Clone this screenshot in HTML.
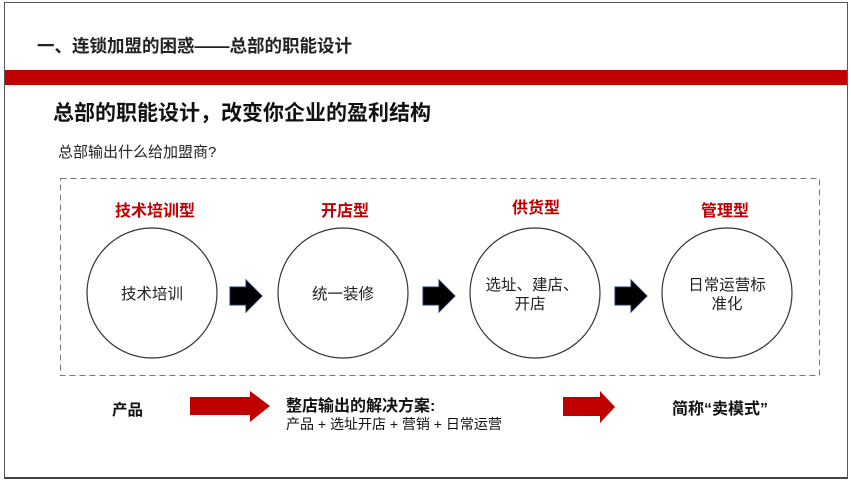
<!DOCTYPE html>
<html><head><meta charset="utf-8"><style>
body{margin:0;width:851px;height:481px;background:#fff;position:relative;overflow:hidden;font-family:"Liberation Sans","Noto Sans CJK SC",sans-serif;}
.a{position:absolute;white-space:nowrap;}
</style></head><body>
<div class="a" style="left:4px;top:2px;width:842px;height:474px;border:1px solid #555;border-bottom:2px solid #444;"></div>
<div class="a" style="left:37px;top:33px;font-size:17.5px;font-weight:bold;color:#222;">一、连锁加盟的困惑——总部的职能设计</div>
<div class="a" style="left:5px;top:70px;width:842px;height:15px;background:#c00000;"></div>
<div class="a" style="left:53px;top:97px;font-size:21px;font-weight:bold;color:#111;">总部的职能设计，改变你企业的盈利结构</div>
<div class="a" style="left:58px;top:141px;font-size:15px;color:#222;">总部输出什么给加盟商?</div>
<svg class="a" style="left:0;top:0" width="851" height="481">
<rect x="60.5" y="178.5" width="759" height="197" fill="none" stroke="#777" stroke-dasharray="6,4"/>
<g fill="#fff" stroke="#333" stroke-width="1.2">
<circle cx="152" cy="293" r="65"/><circle cx="343" cy="293" r="65"/><circle cx="535" cy="293" r="65"/><circle cx="727" cy="293" r="65"/>
</g>
<g fill="#000" stroke="#1f3864" stroke-width="1">
<polygon points="230,287 246,287 246,280 262,296 246,312 246,305 230,305"/>
<polygon points="423,287 439,287 439,280 455,296 439,312 439,305 423,305"/>
<polygon points="615,287 631,287 631,280 647,296 631,312 631,305 615,305"/>
</g>
<g fill="#c00000">
<polygon points="190,397 250,397 250,391 270,406 250,422 250,415 190,415"/>
<polygon points="563,397 600,397 600,391 615,407 600,423 600,416 563,416"/>
</g>
<g font-family="Liberation Sans,Noto Sans CJK SC,sans-serif" font-size="16" fill="#c00000" font-weight="bold" text-anchor="middle">
<text x="155" y="216">技术培训型</text><text x="345" y="216">开店型</text><text x="536" y="213">供货型</text><text x="725" y="216">管理型</text>
</g>
<g font-family="Liberation Sans,Noto Sans CJK SC,sans-serif" font-size="15.5" fill="#222" text-anchor="middle">
<text x="152" y="299">技术培训</text><text x="343" y="299">统一装修</text>
<text x="532" y="290">选址、建店、</text><text x="530" y="309">开店</text>
<text x="727" y="290">日常运营标</text><text x="727" y="309">准化</text>
</g>
<g font-family="Liberation Sans,Noto Sans CJK SC,sans-serif" fill="#111">
<text x="112" y="415" font-size="15.5" font-weight="bold">产品</text>
<text x="286" y="411" font-size="16" font-weight="bold">整店输出的解决方案:</text>
<text x="286" y="429" font-size="14">产品 + 选址开店 + 营销 + 日常运营</text>
<text x="672" y="414" font-size="16" font-weight="bold">简称“卖模式”</text>
</g>
</svg>
</body></html>
